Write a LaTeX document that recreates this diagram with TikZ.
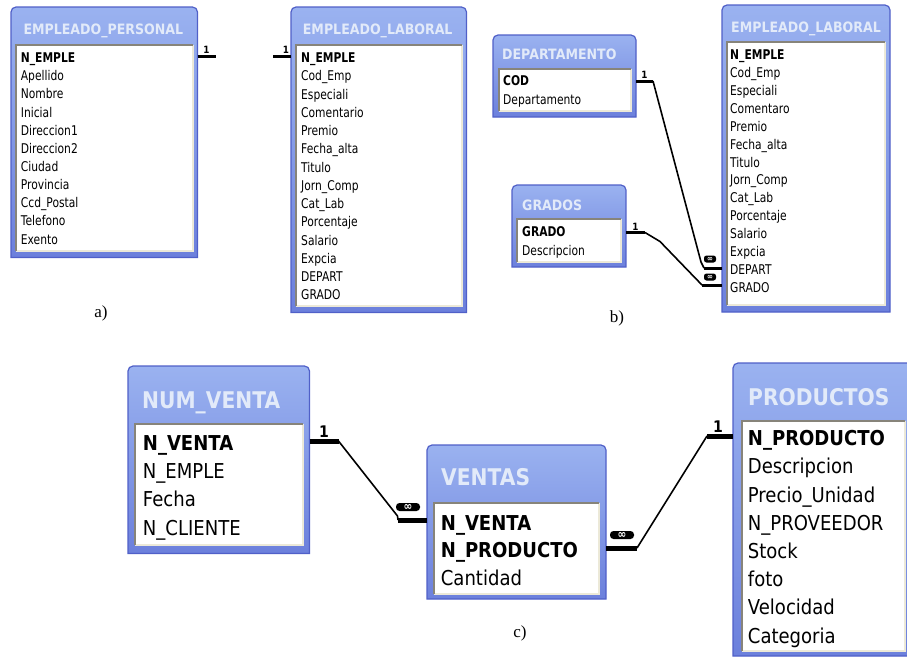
\documentclass[tikz,border=0pt]{standalone}
\usepackage{fontspec}
\usetikzlibrary{fit,calc}
\newfontfamily\dbf[FakeStretch=0.88]{DejaVu Sans}
\newfontfamily\dbs[FakeStretch=0.8]{DejaVu Sans}
\newfontfamily\lblf{Liberation Serif}
\definecolor{frametop}{HTML}{9AB2F0}
\definecolor{framebot}{HTML}{6C80DC}
\definecolor{framedark}{HTML}{5060C8}
\definecolor{titlec}{HTML}{E2EAF9}
\definecolor{bevdark}{HTML}{87847A}
\definecolor{bevlight}{HTML}{ECE9D8}
\tikzset{
  framefill/.style={top color=frametop, bottom color=framebot, draw=framedark, line width=1.2pt},
  bevd/.style={draw=bevdark, line width=2pt},
  bevl/.style={draw=bevlight, line width=2pt},
  fld/.style={anchor=base west, inner sep=0pt, font=\dbs\fontsize{13.4}{14}\selectfont},
  fldB/.style={anchor=base west, inner sep=0pt, font=\dbf\fontsize{20.5}{21}\selectfont},
  ttl/.style={anchor=base west, inner sep=0pt, text=titlec, font=\dbf\bfseries\fontsize{14.3}{15}\selectfont},
  ttlB/.style={anchor=base west, inner sep=0pt, text=titlec, font=\dbf\bfseries\fontsize{23}{24}\selectfont},
  stub/.style={line width=3pt},
  stubB/.style={line width=5pt},
  thinl/.style={line width=1.6pt, line join=round},
  one/.style={inner sep=1pt, font=\dbf\bfseries\fontsize{10}{10}\selectfont},
  oneB/.style={inner sep=1.5pt, font=\dbf\bfseries\fontsize{16}{16}\selectfont},
  inf/.style={fill=black, rounded corners=2.5pt, minimum width=12pt, minimum height=7pt, inner sep=0pt,
    text=white, font=\dbf\bfseries\fontsize{8}{7}\selectfont},
  infB/.style={fill=black, rounded corners=3.5pt, minimum width=24pt, minimum height=8pt, inner sep=0pt,
    text=white, font=\dbf\bfseries\fontsize{12}{8}\selectfont},
  lbl/.style={font=\lblf\fontsize{17}{17}\selectfont}
}
% table frame: name, outer x1 y1 x2 y2, inner left top right bottom
\newcommand{\dbframe}[9]{%
  \path[framefill] (#2,#5) -- (#2,{#3+5}) arc[start angle=180,end angle=270,radius=5]
    -- ({#4-5},#3) arc[start angle=270,end angle=360,radius=5] -- (#4,#5) -- cycle;
  \fill[white] (#6,#7) rectangle (#8,#9);
  \draw[bevl] (#8,#7) -- (#8,#9) -- (#6,#9);
  \draw[bevd] (#6,#9) -- (#6,#7) -- (#8,#7);
  \node[fit={(#2,#3) (#4,#5)}, inner sep=0pt, outer sep=0pt] (#1) {};
}
\begin{document}
\begin{tikzpicture}[x=1pt,y=-1pt]
\useasboundingbox (0,0) rectangle (907,657);

% ---------- a) ----------
\dbframe{ep}{11}{7}{197.5}{257.5}{15.7}{45}{192.5}{250.7}
\node[ttl] (ept) at (23.3,34) {EMPLEADO\_PERSONAL};
\foreach \t [count=\i from 0] in {{\textbf{N\_EMPLE}},Apellido,Nombre,Inicial,Direccion1,Direccion2,Ciudad,Provincia,Ccd\_Postal,Telefono,Exento}
  \node[fld] (ep\i) at (20.7,{62.6+18.15*\i}) {\t};

\dbframe{ela}{291}{7}{466.5}{312.5}{296}{45}{461.7}{306}
\node[ttl] (elat) at (302.7,34) {EMPLEADO\_LABORAL};
\foreach \t [count=\i from 0] in {{\textbf{N\_EMPLE}},Cod\_Emp,Especiali,Comentario,Premio,Fecha\_alta,Titulo,Jorn\_Comp,Cat\_Lab,Porcentaje,Salario,Expcia,DEPART,GRADO}
  \node[fld] (ela\i) at (301,{62.6+18.25*\i}) {\t};

\draw[stub] (ep.east |- 0,56) -- ++(18,0) node[one, midway, above] {1};
\draw[stub] (ela.west |- 0,56) -- ++(-18,0) node[one, pos=0.28, above] {1};

\node[lbl] (la) at (101,313) {a)};

% ---------- b) ----------
\dbframe{dept}{493}{35}{636}{117}{499}{69.3}{631}{110.5}
\node[ttl] (deptt) at (502,59.3) {DEPARTAMENTO};
\node[fld] (dept0) at (503,85.7) {\textbf{COD}};
\node[fld] (dept1) at (503,104.3) {Departamento};

\dbframe{gr}{512}{185}{626}{267}{517}{219.3}{621}{261.7}
\node[ttl] (grt) at (522,210) {GRADOS};
\node[fld] (gr0) at (522,236.7) {\textbf{GRADO}};
\node[fld] (gr1) at (522,255) {Descripcion};

\dbframe{elb}{722}{5}{890}{312}{727}{42}{885}{305}
\node[ttl] (elbt) at (731,32.7) {EMPLEADO\_LABORAL};
\foreach \t [count=\i from 0] in {{\textbf{N\_EMPLE}},Cod\_Emp,Especiali,Comentaro,Premio,Fecha\_alta,Titulo,Jorn\_Comp,Cat\_Lab,Porcentaje,Salario,Expcia,DEPART,GRADO}
  \node[fld] (elb\i) at (730,{59.3+17.95*\i}) {\t};

% DEPARTAMENTO -> DEPART
\draw[stub] (dept.east |- 0,81) -- ++(17,0) coordinate (d2) node[one, midway, above] {1};
\draw[stub] (elb.west |- 0,268) -- ++(-18,0) coordinate (d3);
\draw[thinl] (d2) -- ++(48,181) -- (d3);
\node[inf] (dinf) at ($(d3)+(6,-9)$) {∞};

% GRADOS -> GRADO
\draw[stub] (gr.east |- 0,232.5) -- ++(19,0) coordinate (g2) node[one, midway, above] {1};
\draw[stub] (elb.west |- 0,285) -- ++(-20,0) coordinate (g3);
\draw[thinl] (g2) -- ++(15,9) -- ++(27,28) -- (g3);
\node[inf] (ginf) at ($(g3)+(8,-8)$) {∞};

\node[lbl] (lb) at (617,318) {b)};

% ---------- c) ----------
\dbframe{nv}{128}{366}{309.5}{553.5}{135}{424}{302.5}{545}
\node[ttlB] (nvt) at (142,408.3) {NUM\_VENTA};
\foreach \t [count=\i from 0] in {{\textbf{N\_VENTA}},N\_EMPLE,Fecha,N\_CLIENTE}
  \node[fldB] (nv\i) at (142.7,{450.7+28.1*\i}) {\t};

\dbframe{ve}{427}{445}{606}{599}{434}{502.7}{598.5}{594}
\node[ttlB] (vet) at (441,485) {VENTAS};
\foreach \t [count=\i from 0] in {{\textbf{N\_VENTA}},{\textbf{N\_PRODUCTO}},Cantidad}
  \node[fldB] (ve\i) at (440.7,{530+27.8*\i}) {\t};

\dbframe{prod}{733}{363}{912}{656}{742}{421}{905}{651}
\node[ttlB] (prodt) at (748,405) {PRODUCTOS};
\foreach \t [count=\i from 0] in {{\textbf{N\_PRODUCTO}},Descripcion,Precio\_Unidad,N\_PROVEEDOR,Stock,foto,Velocidad,Categoria}
  \node[fldB] (prod\i) at (747.7,{445.7+28.2*\i}) {\t};

% NUM_VENTA -> VENTAS
\draw[stubB] (nv.east |- 0,441) -- ++(29,0) coordinate (n2) node[oneB, midway, above] {1};
\draw[stubB] (ve.west |- 0,520) -- ++(-29,0) coordinate (n3);
\draw[thinl] (n2) -- ++(59,75) -- (n3);
\node[infB] (ninf) at ($(n3)+(10,-13)$) {∞};

% VENTAS -> PRODUCTOS
\draw[stubB] (ve.east |- 0,548) -- ++(31,0) coordinate (v2);
\node[infB] (vinf) at ($(v2)+(-15,-13)$) {∞};
\draw[stubB] (prod.west |- 0,436) -- ++(-26,0) coordinate (p2) node[oneB, pos=0.58, above] {1};
\draw[thinl] (v2) -- (p2);

\node[lbl] (lc) at (520,633) {c)};
\end{tikzpicture}
\end{document}
